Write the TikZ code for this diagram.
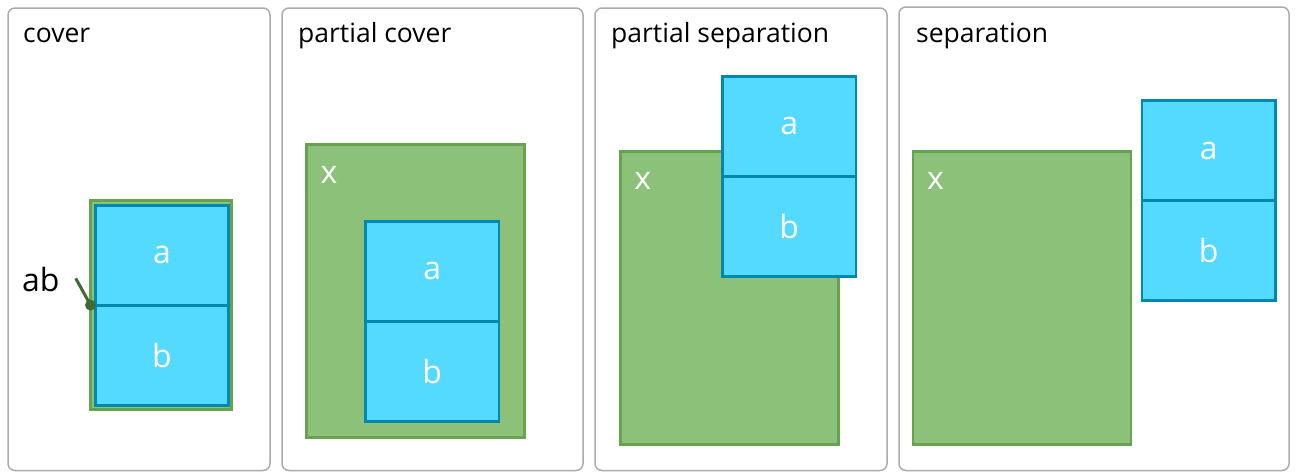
\documentclass[tikz,border=0pt]{standalone}
\usepackage{fontspec}
\setmainfont{Open Sans}
\usepackage{tikz}
\usetikzlibrary{positioning}

\definecolor{panelgray}{HTML}{ABABAB}
\definecolor{xfill}{HTML}{8CC17A}
\definecolor{xline}{HTML}{67A34E}
\definecolor{abfill}{HTML}{55DAFF}
\definecolor{abline}{HTML}{0088B0}
\definecolor{pincol}{HTML}{3E6B33}

\tikzset{
    panel/.style = {draw=panelgray, line width=1.5pt, rounded corners=7pt},
    title/.style = {anchor=base west, inner sep=0pt, font=\fontsize{26.5}{30}\selectfont},
    setx/.style = {draw=xline, fill=xfill, line width=2.8pt, inner sep=0pt, outer sep=0pt,
                   minimum width=218pt, minimum height=293pt},
    setab/.style = {draw=abline, fill=abfill, line width=2.8pt, inner sep=0pt, outer sep=0pt,
                    minimum width=133.5pt, minimum height=100pt, text=white,
                    font=\fontsize{32}{36}\selectfont},
    xlabel/.style = {anchor=base west, inner sep=0pt, text=white, font=\fontsize{32}{36}\selectfont}
}

\begin{document}
\begin{tikzpicture}[x=1pt,y=-1pt]
                    \useasboundingbox (0,0) rectangle (1295,472);
                    % the four panels
                    \draw[panel] (8,8) rectangle (270,470.5);
                    \draw[panel] (282,8) rectangle (583,470.5);
                    \draw[panel] (595,8) rectangle (887,470.5);
                    \draw[panel] (899,7) rectangle (1289,470.5);
                    \node (tcover) at (23,42) [title] {cover};
                    \node (tpcover) at (298,42) [title] {partial cover};
                    \node (tpsep) at (611,42) [title] {partial separation};
                    \node (tsep) at (916,42) [title] {separation};
                    % cover
                    \node (x1) at (161.2,305.2) [setx, minimum width=141.3pt, minimum height=209.3pt] {};
                    \node (a1) at (162,255.1) [setab] {a};
                    \node (b1) [setab, below=0pt of a1] {b};
                    \coordinate (pin) at (x1.west |- a1.south);
                    \coordinate (pinend) at (75.7,278.3);
                    \node (ab) at (22,291) [anchor=base west, inner sep=0pt, font=\fontsize{32}{36}\selectfont] {ab};
                    \draw[pincol, line width=3pt] (pinend) -- (pin);
                    \fill[pincol] (pin) circle[radius=5.5pt];
                    % partial cover
                    \node (x2) at (415.5,291.3) [setx] {};
                    \node (lx2) at ([shift={(14,38.5)}]x2.north west) [xlabel] {x};
                    \node (a2) at (432.2,271.2) [setab] {a};
                    \node (b2) [setab, below=0pt of a2] {b};
                    % partial separation
                    \node (x3) at (729.1,297.7) [setx] {};
                    \node (lx3) at ([shift={(14,38.5)}]x3.north west) [xlabel] {x};
                    \node (a3) at (789.2,126.3) [setab] {a};
                    \node (b3) [setab, below=0pt of a3] {b};
                    % separation
                    \node (x4) at (1022,297.7) [setx] {};
                    \node (lx4) at ([shift={(14,38.5)}]x4.north west) [xlabel] {x};
                    \node (a4) at (1208.7,150.5) [setab] {a};
                    \node (b4) [setab, below=0pt of a4] {b};
                \end{tikzpicture}
\end{document}
